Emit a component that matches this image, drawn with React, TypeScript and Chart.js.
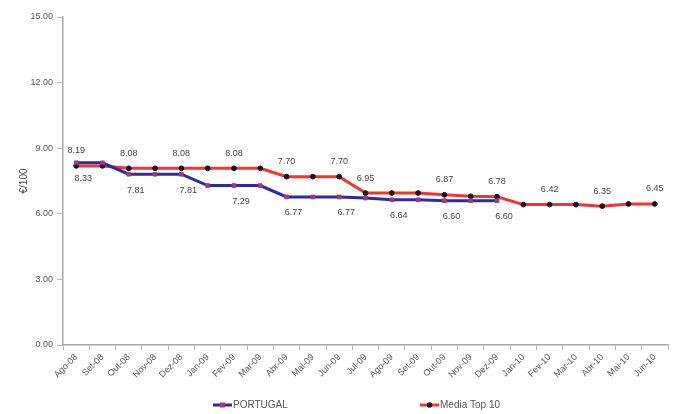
import React, { useEffect, useRef } from "react";
import { Chart, registerables } from "chart.js";

Chart.register(...registerables);

const months = [
  "Ago-08", "Set-08", "Out-08", "Nov-08", "Dez-08", "Jan-09", "Fev-09", "Mar-09",
  "Abr-09", "Mai-09", "Jun-09", "Jul-09", "Ago-09", "Set-09", "Out-09", "Nov-09",
  "Dez-09", "Jan-10", "Fev-10", "Mar-10", "Abr-10", "Mai-10", "Jun-10",
];

const portugal: (number | null)[] = [
  8.33, 8.33, 7.81, 7.81, 7.81, 7.29, 7.29, 7.29, 6.77, 6.77, 6.77, 6.72,
  6.64, 6.64, 6.6, 6.6, 6.6, null, null, null, null, null, null,
];

const mediaTop10: number[] = [
  8.19, 8.19, 8.08, 8.08, 8.08, 8.08, 8.08, 8.08, 7.7, 7.7, 7.7, 6.95,
  6.95, 6.95, 6.87, 6.8, 6.78, 6.42, 6.42, 6.42, 6.35, 6.45, 6.45,
];

// indices of the points that carry a value label
const portugalLabelIdx = [0, 2, 4, 6, 8, 10, 12, 14, 16];
const mediaLabelIdx = [0, 2, 4, 6, 8, 10, 11, 14, 16, 18, 20, 22];

const yTicks = [0, 3, 6, 9, 12, 15];

const FONT = "Arial, 'Liberation Sans', sans-serif";

const valueLabels = {
  id: "valueLabels",
  afterDatasetsDraw(chart: any) {
    const ctx = chart.ctx;
    ctx.save();
    ctx.font = `9px ${FONT}`;
    ctx.fillStyle = "#444";
    ctx.textAlign = "center";
    ctx.textBaseline = "middle";
    const specs = [
      { ds: 0, idx: portugalLabelIdx, dy: 16, dx: 7 },
      { ds: 1, idx: mediaLabelIdx, dy: -15, dx: 0 },
    ];
    for (const s of specs) {
      const meta = chart.getDatasetMeta(s.ds);
      const data = chart.data.datasets[s.ds].data;
      for (const i of s.idx) {
        const v = data[i];
        const el = meta.data[i];
        if (v == null || !el) continue;
        ctx.fillText(Number(v).toFixed(2), el.x + s.dx, el.y + s.dy);
      }
    }
    ctx.restore();
  },
};

const bottomLegend = {
  id: "bottomLegend",
  afterDraw(chart: any) {
    const ctx = chart.ctx;
    const area = chart.chartArea;
    const y = chart.height - 9;
    const slots = [area.left + 150, area.left + 357];
    ctx.save();
    ctx.font = `10px ${FONT}`;
    ctx.textBaseline = "middle";
    ctx.textAlign = "left";
    chart.data.datasets.forEach((ds: any, i: number) => {
      const x = slots[i];
      ctx.strokeStyle = ds.borderColor;
      ctx.lineWidth = 3;
      ctx.beginPath();
      ctx.moveTo(x, y);
      ctx.lineTo(x + 19, y);
      ctx.stroke();
      ctx.fillStyle = ds.pointBackgroundColor;
      if (ds.pointStyle === "rect") {
        ctx.fillRect(x + 7, y - 2.5, 5, 5);
      } else {
        ctx.beginPath();
        ctx.arc(x + 9.5, y, 2.8, 0, Math.PI * 2);
        ctx.fill();
      }
      ctx.fillStyle = "#555";
      ctx.fillText(ds.label, x + 20, y + 0.5);
    });
    ctx.restore();
  },
};

export default function App() {
  const ref = useRef<HTMLCanvasElement>(null);

  useEffect(() => {
    if (!ref.current) return;
    const chart = new Chart(ref.current, {
      type: "line",
      data: {
        labels: months,
        datasets: [
          {
            label: "PORTUGAL",
            data: portugal,
            borderColor: "#2e2aa6",
            backgroundColor: "#2e2aa6",
            pointBackgroundColor: "#a23a78",
            pointBorderColor: "#a23a78",
            pointStyle: "rect",
            pointRadius: 2.6,
            pointBorderWidth: 1,
            borderWidth: 3,
            tension: 0,
            spanGaps: false,
          },
          {
            label: "Media Top 10",
            data: mediaTop10,
            borderColor: "#f43434",
            backgroundColor: "#f43434",
            pointBackgroundColor: "#1c1022",
            pointBorderColor: "#1c1022",
            pointStyle: "circle",
            pointRadius: 2.4,
            pointBorderWidth: 1,
            borderWidth: 3,
            tension: 0,
          },
        ],
      },
      options: {
        animation: false,
        responsive: false,
        maintainAspectRatio: false,
        layout: { padding: { top: 17, right: 3, left: 18, bottom: 0 } },
        plugins: {
          legend: { display: false },
          tooltip: { enabled: false },
        },
        scales: {
          x: {
            type: "category",
            offset: true,
            grid: {
              offset: true,
              drawOnChartArea: false,
              drawTicks: true,
              tickLength: 5,
              color: "#b8b8b8",
            },
            border: { color: "#a8a8a8", width: 1.5 },
            ticks: {
              minRotation: 45,
              maxRotation: 45,
              autoSkip: false,
              color: "#555",
              font: { size: 9, family: FONT },
              padding: 2,
            },
            afterFit(scale: any) {
              scale.height = 69;
            },
          },
          y: {
            min: 0,
            max: 15,
            afterBuildTicks(scale: any) {
              scale.ticks = yTicks.map((v) => ({ value: v }));
            },
            grid: {
              drawOnChartArea: false,
              drawTicks: true,
              tickLength: 6,
              color: "#b8b8b8",
            },
            border: { color: "#a8a8a8", width: 1.5 },
            ticks: {
              color: "#555",
              padding: 4,
              font: { size: 9, family: FONT },
              callback: (v: any) => Number(v).toFixed(2),
            },
            title: {
              display: true,
              text: "€/100",
              color: "#444",
              font: { size: 10, family: FONT },
              padding: { top: 0, bottom: 0 },
            },
            afterFit(scale: any) {
              scale.width = 45;
            },
          },
        },
      },
      plugins: [valueLabels, bottomLegend],
    });
    return () => chart.destroy();
  }, []);

  return (
    <div style={{ position: "fixed", left: 0, top: 0, width: 673, height: 414, background: "#fff" }}>
      <canvas ref={ref} width={673} height={414} style={{ display: "block" }} />
    </div>
  );
}
